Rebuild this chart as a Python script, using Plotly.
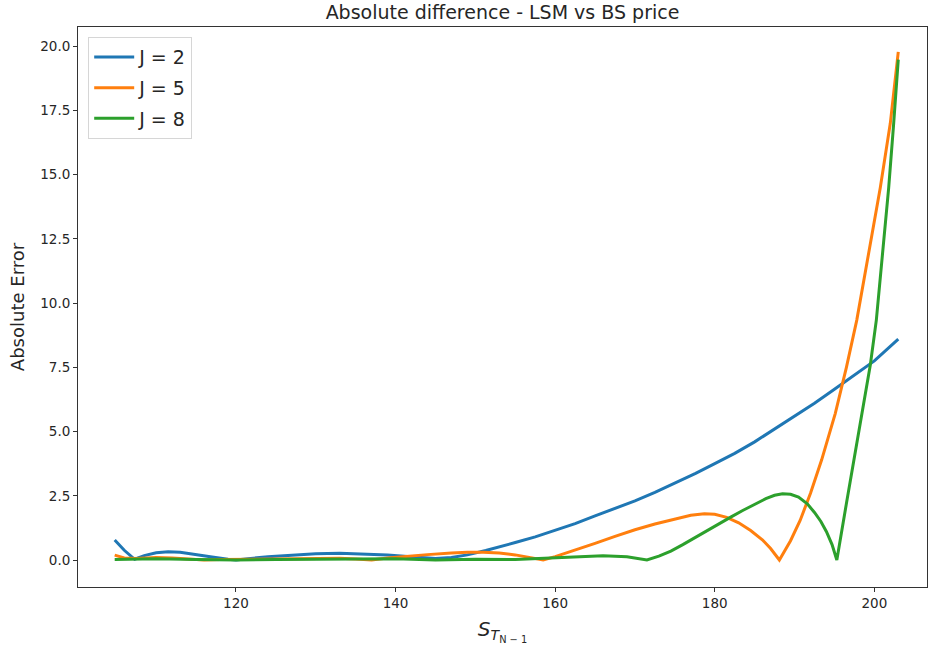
import plotly.graph_objects as go

# J = 2
x_j2 = [104.8, 106.0, 107.3, 108.5, 110.0, 111.5, 113.0, 115.0, 117.0, 119.0, 120.0, 121.5,
        124.0, 127.0, 130.0, 133.0, 136.0, 139.0, 141.5, 143.5, 145.0, 147.0, 149.0, 151.3,
        153.0, 155.0, 157.5, 160.0, 162.5, 165.0, 167.5, 170.0, 172.5, 175.0, 177.6, 180.0,
        182.5, 185.0, 187.5, 190.0, 192.5, 195.0, 197.5, 200.0, 203.0]
y_j2 = [0.78, 0.38, 0.03, 0.17, 0.28, 0.32, 0.30, 0.22, 0.12, 0.03, 0.0, 0.05,
        0.13, 0.19, 0.24, 0.26, 0.24, 0.20, 0.14, 0.08, 0.06, 0.10, 0.20, 0.37,
        0.50, 0.68, 0.90, 1.15, 1.42, 1.72, 2.00, 2.30, 2.63, 2.98, 3.37, 3.75,
        4.15, 4.60, 5.10, 5.60, 6.10, 6.65, 7.20, 7.75, 8.60]

# J = 5
x_j5 = [104.8, 106.0, 107.5, 110.0, 112.0, 114.0, 116.0, 118.0, 120.0, 123.0, 126.0, 130.0,
        133.0, 135.0, 137.0, 139.0, 141.0, 144.0, 147.0, 149.0, 151.0, 153.0, 155.0, 157.0,
        158.5, 160.0, 162.5, 165.0, 167.5, 170.0, 172.5, 175.0, 177.0, 178.7, 180.0, 181.5,
        183.0, 184.5, 186.0, 187.0, 188.1, 189.5, 190.7, 192.0, 193.4, 195.1, 196.5, 197.8,
        199.3, 200.75, 202.0, 203.0]
y_j5 = [0.19, 0.08, 0.06, 0.10, 0.08, 0.04, 0.0, 0.02, 0.03, 0.04, 0.06, 0.08,
        0.07, 0.04, 0.0, 0.08, 0.14, 0.21, 0.27, 0.30, 0.30, 0.27, 0.20, 0.09,
        0.0, 0.13, 0.38, 0.65, 0.92, 1.18, 1.40, 1.60, 1.74, 1.80, 1.78, 1.66,
        1.45, 1.15, 0.78, 0.45, 0.0, 0.75, 1.54, 2.60, 3.90, 5.70, 7.50, 9.34,
        11.9, 14.5, 17.0, 19.78]

# J = 8
x_j8 = [104.8, 110.0, 115.0, 120.0, 125.0, 130.0, 135.0, 140.0, 145.0, 150.0, 155.0, 160.0,
        163.0, 166.0, 169.0, 171.5, 173.0, 174.5, 176.0, 177.6, 179.0, 180.5, 182.0, 183.5,
        185.0, 186.4, 187.5, 188.5, 189.5, 190.5, 191.6, 192.5, 193.3, 194.0, 194.7, 195.3,
        196.5, 197.5, 198.5, 199.5, 200.25, 201.0, 201.8, 202.4, 203.0]
y_j8 = [0.02, 0.05, 0.02, 0.0, 0.02, 0.03, 0.04, 0.05, 0.0, 0.03, 0.02, 0.08,
        0.13, 0.17, 0.13, 0.0, 0.15, 0.35, 0.60, 0.89, 1.15, 1.42, 1.67, 1.93,
        2.18, 2.39, 2.52, 2.58, 2.56, 2.45, 2.19, 1.85, 1.50, 1.10, 0.60, 0.0,
        2.2, 4.0, 5.8, 7.6, 9.34, 11.8, 14.5, 16.9, 19.48]

series = [("J = 2", x_j2, y_j2, "#1f77b4"),
          ("J = 5", x_j5, y_j5, "#ff7f0e"),
          ("J = 8", x_j8, y_j8, "#2ca02c")]

x_ticks = [120, 140, 160, 180, 200]
y_ticks = [0, 2.5, 5, 7.5, 10, 12.5, 15, 17.5, 20]

fig = go.Figure()
for i, (name, xs, ys, col) in enumerate(series):
    fig.add_trace(go.Scatter(x=xs, y=ys, mode="lines", name=name,
                             line=dict(color=col, width=3),
                             legendgroup=str(i)))

font = "DejaVu Sans"
fig.update_layout(
    width=928, height=645,
    margin=dict(l=78, r=1, t=27, b=58),
    paper_bgcolor="white", plot_bgcolor="white",
    font=dict(family=font, color="#262626"),
    title=dict(text="Absolute difference - LSM vs BS price", x=0.5, xref="paper",
               y=0.981, yanchor="middle", font=dict(size=19, color="#262626")),
    showlegend=True,
    legend=dict(x=0.012, y=0.982, xanchor="left", yanchor="top",
                bgcolor="rgba(255,255,255,0.8)", bordercolor="#d6d6d6", borderwidth=1,
                font=dict(size=19, color="#262626"), tracegroupgap=3,
                itemwidth=40),
)
fig.update_xaxes(range=[100.2, 206.6], tickvals=x_ticks, ticktext=[str(v) for v in x_ticks],
                 showgrid=False, zeroline=False, showline=True, linecolor="#333333",
                 linewidth=1, mirror=True, ticks="outside", ticklen=4, tickcolor="#333333",
                 tickfont=dict(size=13.5, color="#262626"),
                 title=dict(text="<i>S</i><sub><i>T</i><sub>N − 1</sub></sub>",
                            font=dict(size=20, color="#262626"), standoff=12))
fig.update_yaxes(range=[-1.05, 20.75], tickvals=y_ticks, ticktext=[f"{v:.1f}" for v in y_ticks],
                 showgrid=False, zeroline=False, showline=True, linecolor="#333333",
                 linewidth=1, mirror=True, ticks="outside", ticklen=4, tickcolor="#333333",
                 tickfont=dict(size=13.5, color="#262626"),
                 title=dict(text="Absolute Error", font=dict(size=18, color="#262626"),
                            standoff=10))

fig.write_html("out.html")
